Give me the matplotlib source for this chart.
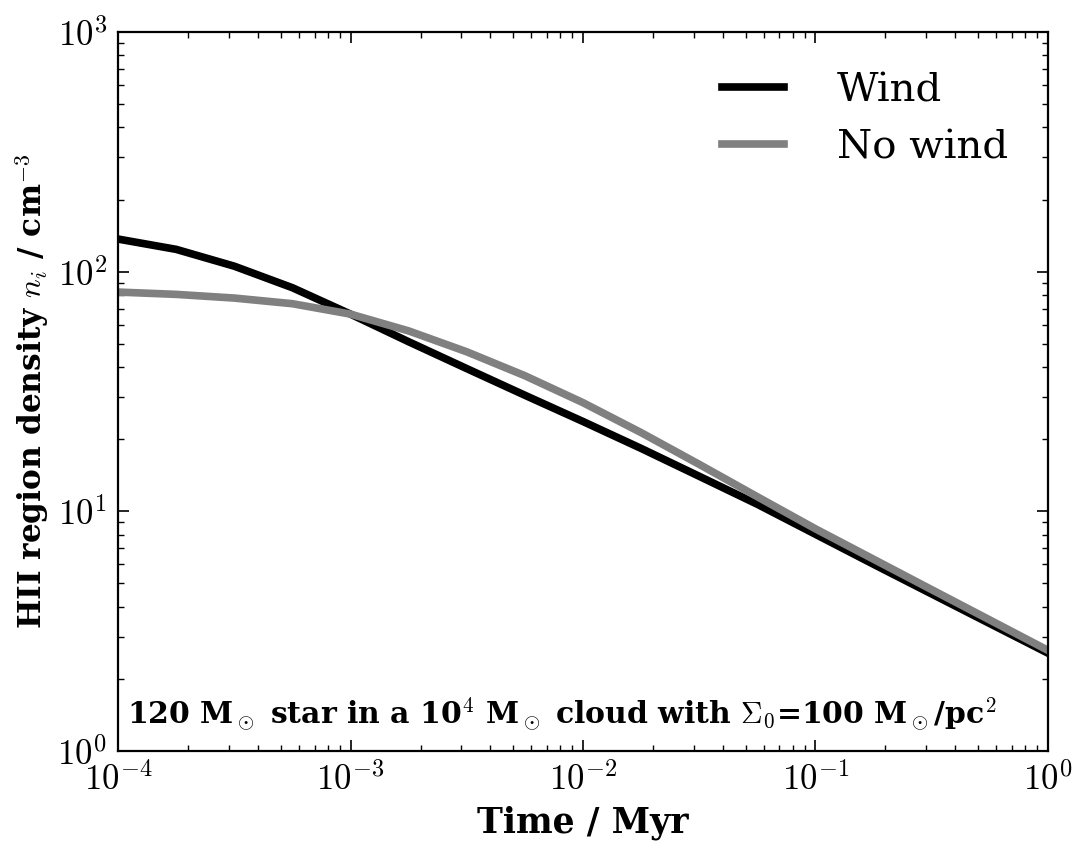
import numpy as np
import matplotlib
matplotlib.use("Agg")
import matplotlib.pyplot as plt
from matplotlib.ticker import FuncFormatter

# Temps (Myr) et densites
temps = 10 ** np.array([-4, -3.75, -3.5, -3.25, -3, -2.75, -2.5, -2.25, -2,
                        -1.75, -1.5, -1.25, -1, -0.75, -0.5, -0.25, 0])
dens_wind = [136.8, 123.9, 105.4, 85.7, 66.5, 51.0, 39.4, 30.5, 23.7,
             18.3, 14.0, 10.7, 8.02, 6.01, 4.52, 3.40, 2.56]
dens_nowind = [82.2, 80.4, 77.6, 73.5, 66.5, 56.6, 46.3, 36.8, 28.4,
               21.3, 15.7, 11.5, 8.45, 6.31, 4.71, 3.52, 2.63]

plt.rcParams['font.family'] = 'DejaVu Serif'
plt.rcParams['mathtext.fontset'] = 'cm'

fig = plt.figure(figsize=(10.87, 8.56), dpi=100)
ax = fig.add_axes([0.1086, 0.1227, 0.8555, 0.8399])

ax.plot(temps, dens_wind, color='black', lw=5.5, label='Wind')
ax.plot(temps, dens_nowind, color='#808080', lw=5.5, label='No wind')

ax.set_xscale('log')
ax.set_yscale('log')
ax.set_xlim(1e-4, 1)
ax.set_ylim(1, 1e3)

fmt = FuncFormatter(lambda v, pos: r'$10^{%d}$' % int(round(np.log10(v))))
ax.xaxis.set_major_formatter(fmt)
ax.yaxis.set_major_formatter(fmt)
ax.tick_params(which='both', direction='in', top=True, right=True, labelsize=25)
ax.tick_params(which='major', length=8, width=1.2, pad=8)
ax.tick_params(which='minor', length=4, width=1)
for s in ax.spines.values():
    s.set_linewidth(1.6)

ax.set_xlabel('Time / Myr', fontsize=25, fontweight='bold', labelpad=6)
ax.set_ylabel(r'HII region density $n_i$ / cm$^{-3}$', fontsize=22.5,
              fontweight='bold', labelpad=4)

ax.text(0.01, 0.025,
        r'120 M$_\odot$ star in a 10$^4$ M$_\odot$ cloud with $\Sigma_0$=100 M$_\odot$/pc$^2$',
        transform=ax.transAxes, fontsize=21.5, fontweight='bold', ha='left', va='bottom')

leg = ax.legend(loc='upper right', frameon=False, fontsize=29, handlelength=1.55,
                handletextpad=1.3, borderaxespad=0.6)

fig.savefig('out.png', dpi=100)
